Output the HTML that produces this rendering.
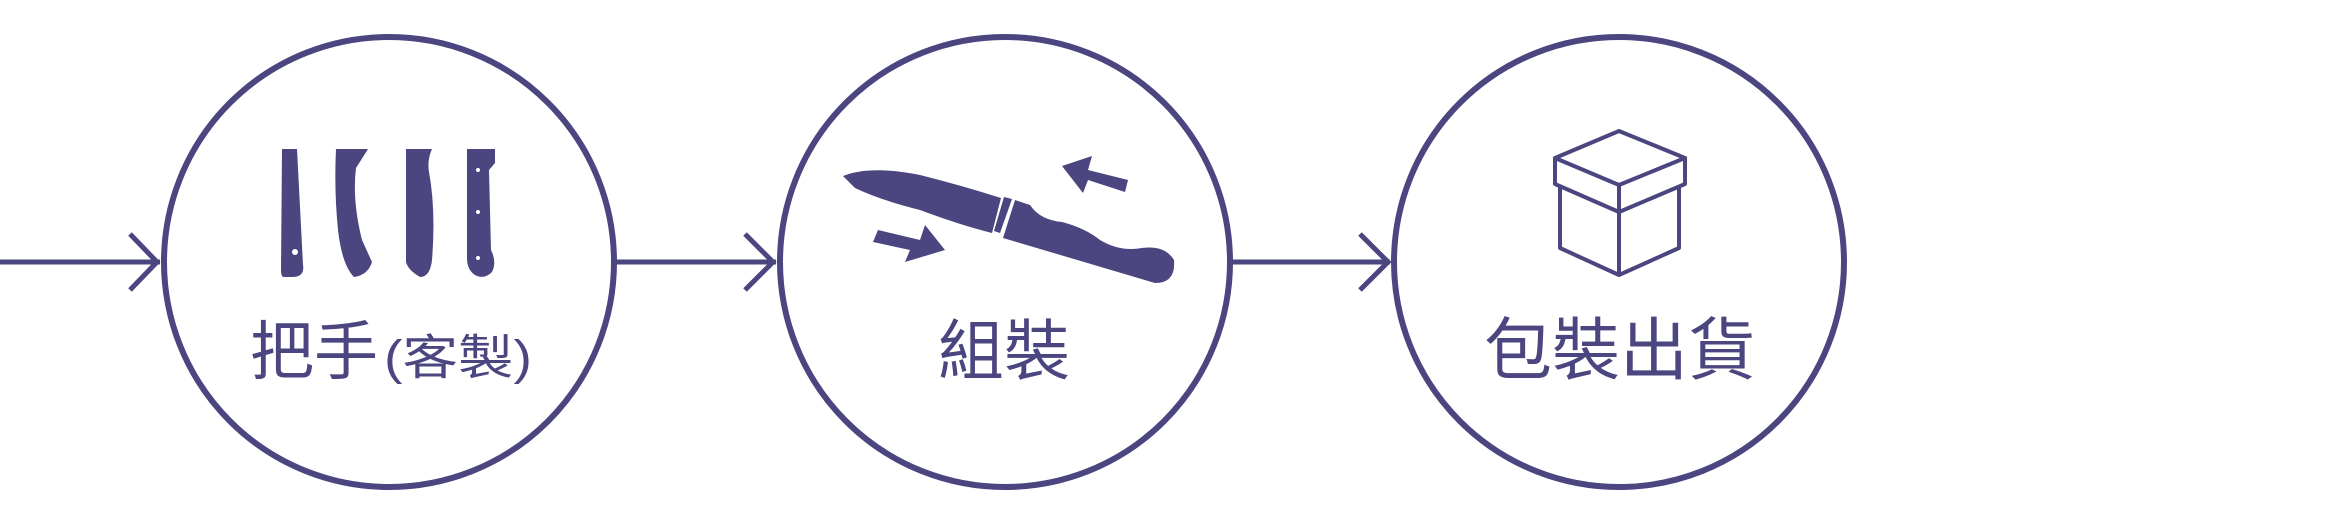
<!DOCTYPE html>
<html><head><meta charset="utf-8"><style>
html,body{margin:0;padding:0;background:#fff;width:2345px;height:526px;overflow:hidden}
text{font-family:"Liberation Sans","Noto Sans CJK TC",sans-serif;fill:#4b4580}
</style></head><body>
<svg width="2345" height="526" viewBox="0 0 2345 526" xmlns="http://www.w3.org/2000/svg">
<g fill="none" stroke="#4b4580" stroke-width="6">
<circle cx="389" cy="262" r="225"/>
<circle cx="1005" cy="262" r="225"/>
<circle cx="1619" cy="262" r="225"/>
<line x1="0" y1="262" x2="160" y2="262" stroke-width="5"/>
<polyline points="130,234 157,262 130,290" stroke-width="5"/>
<line x1="614" y1="262" x2="776" y2="262" stroke-width="5"/>
<polyline points="745,234 773,262 745,290" stroke-width="5"/>
<line x1="1230" y1="262" x2="1390" y2="262" stroke-width="5"/>
<polyline points="1360,234 1388,262 1360,290" stroke-width="5"/>
</g>
<g fill="none" stroke="#4b4580" stroke-width="4" stroke-linejoin="round">
<polygon points="1619,131 1685,158 1619,185 1555,158"/>
<polyline points="1555,158 1555,184 1619,212 1685,184 1685,158"/>
<polyline points="1560,187 1560,248 1619,275 1679,248 1679,187"/>
<line x1="1619" y1="185" x2="1619" y2="275"/>
</g>
<g fill="#4b4580">
<path d="M282 149 L297 149 L303 265 Q305 277 292 277 L284 277 Q281 277 281 270 Z"/>
<path d="M336 149 L368 149 L356 168 Q352 200 362 240 L372 262 Q368 275 354 277 Q342 265 338 230 Q334 190 336 149 Z"/>
<path d="M406 149 L432 149 Q427 160 429 172 Q436 210 432 260 Q430 277 420 277 Q408 270 406 262 Z"/>
<path d="M467 149 L495 149 L495 163 L489 170 L491 250 Q497 262 492 272 Q485 279 477 276 Q468 272 467 260 Z"/>
</g>
<g fill="#fff">
<circle cx="295" cy="252" r="3"/><circle cx="478" cy="170" r="2"/><circle cx="478" cy="212" r="2"/><circle cx="478" cy="258" r="2"/>
</g>
<g fill="#4b4580">
<path d="M843 176 Q870 165 920 175 Q960 185 1001 198 L992 233 Q960 225 920 210 Q880 200 855 188 Z"/>
<path d="M1004 197 L1012 199 L1000 233 L994 231 Z"/>
<path d="M1015 200 L1030 205 Q1040 220 1062 222 Q1085 228 1100 240 Q1120 252 1142 248 Q1165 245 1174 260 Q1176 283 1155 283 L1003 238 Z"/>
<path d="M878 230 L920 240 L925 225 L945 250 L905 262 L910 250 L873 242 Z"/>
<path d="M1128 180 L1088 170 L1092 156 L1062 166 L1083 193 L1088 180 L1125 192 Z"/>
</g>
<text x="250" y="374" font-size="64">把手</text>
<text x="384" y="374" font-size="48" textLength="148" lengthAdjust="spacingAndGlyphs">(客製)</text>
<text x="938" y="374" font-size="66">組裝</text>
<text x="1484" y="374" font-size="68">包裝出貨</text>
</svg>
</body></html>
